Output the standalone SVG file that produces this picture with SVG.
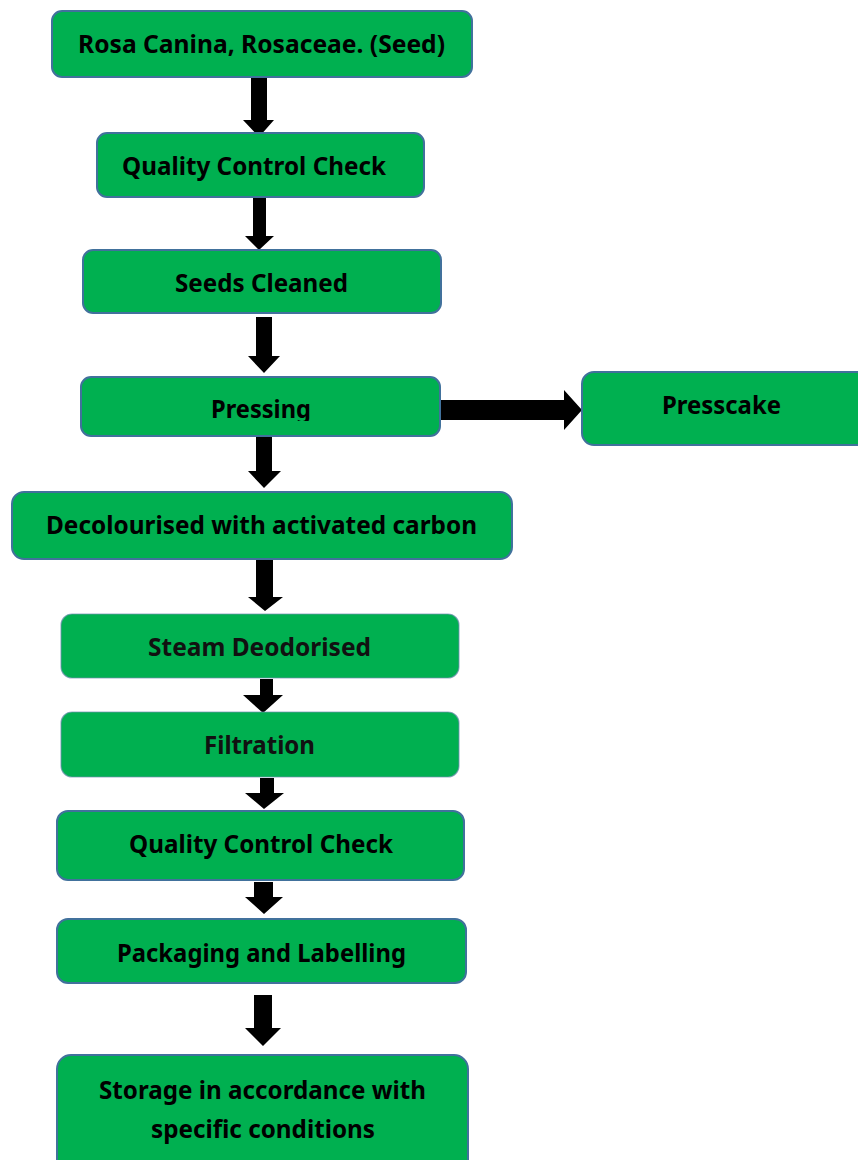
<svg xmlns="http://www.w3.org/2000/svg" width="858" height="1160" viewBox="0 0 858 1160">
<defs>
<style>
.box{fill:#00B050;stroke:#41719C;stroke-width:2}
.soft{fill:#00B050;stroke:#6f8fb0;stroke-width:1.2;stroke-opacity:0.7}
.lbl{font-family:"Noto Sans","Open Sans","Liberation Sans",sans-serif;font-weight:bold;font-size:25px;fill:#000}
.arr{fill:#000}
</style>
<clipPath id="clipPress"><rect x="81" y="377" width="359" height="44"/></clipPath>
</defs>
<rect width="858" height="1160" fill="#fff"/>
<g id="connectors">
<polygon class="arr" points="251,78 267,78 267,120 274,120 259,137 243,120 251,120"/>
<polygon class="arr" points="253,197 266,197 266,236 274,236 259,250 245,236 253,236"/>
<polygon class="arr" points="256,317 272,317 272,356 280,356 264,373 248,356 256,356"/>
<polygon class="arr" points="256,437 272,437 272,471 281,471 264,488 248,471 256,471"/>
<polygon class="arr" points="440,400 564,400 564,390 582,410 564,430 564,420 440,420"/>
<polygon class="arr" points="256,558 273,558 273,597 283,597 265,611 248,597 256,597"/>
<polygon class="arr" points="260,679 273,679 273,695 283,695 263,713 243,695 260,695"/>
<polygon class="arr" points="260,778 274,778 274,793 284,793 264,809 245,793 260,793"/>
<polygon class="arr" points="254,882 273,882 273,897 283,897 264,914 245,897 254,897"/>
<polygon class="arr" points="254,995 272,995 272,1028 281,1028 263,1046 245,1028 254,1028"/>
</g>
<g id="n1">
<rect class="box" x="52" y="11" width="420" height="66" rx="10"/>
<text class="lbl" x="78" y="53" textLength="367" lengthAdjust="spacingAndGlyphs">Rosa Canina, Rosaceae. (Seed)</text>
</g>
<g id="n2">
<rect class="box" x="97" y="133" width="327" height="64" rx="10"/>
<text class="lbl" x="122" y="175" textLength="264" lengthAdjust="spacingAndGlyphs">Quality Control Check</text>
</g>
<g id="n3">
<rect class="box" x="83" y="250" width="358" height="63" rx="10"/>
<text class="lbl" x="175" y="292" textLength="173" lengthAdjust="spacingAndGlyphs">Seeds Cleaned</text>
</g>
<g id="n4">
<rect class="box" x="81" y="377" width="359" height="59" rx="10"/>
<text class="lbl" x="211" y="418" textLength="100" lengthAdjust="spacingAndGlyphs" clip-path="url(#clipPress)">Pressing</text>
</g>
<g id="n5">
<rect class="box" x="582" y="372" width="290" height="73" rx="12"/>
<text class="lbl" x="662" y="414" textLength="119" lengthAdjust="spacingAndGlyphs">Presscake</text>
</g>
<g id="n6">
<rect class="box" x="12" y="492" width="500" height="67" rx="12"/>
<text class="lbl" x="46" y="534" textLength="431" lengthAdjust="spacingAndGlyphs">Decolourised with activated carbon</text>
</g>
<g id="n7">
<rect class="soft" x="61" y="614" width="398" height="64" rx="11"/>
<text class="lbl" x="148" y="656" textLength="223" lengthAdjust="spacingAndGlyphs" style="fill:#111">Steam Deodorised</text>
</g>
<g id="n8">
<rect class="soft" x="61" y="712" width="398" height="65" rx="11"/>
<text class="lbl" x="204" y="754" textLength="111" lengthAdjust="spacingAndGlyphs" style="fill:#111">Filtration</text>
</g>
<g id="n9">
<rect class="box" x="57" y="811" width="407" height="69" rx="11"/>
<text class="lbl" x="129" y="853" textLength="264" lengthAdjust="spacingAndGlyphs">Quality Control Check</text>
</g>
<g id="n10">
<rect class="box" x="57" y="919" width="409" height="64" rx="11"/>
<text class="lbl" x="117" y="962" textLength="289" lengthAdjust="spacingAndGlyphs">Packaging and Labelling</text>
</g>
<g id="n11">
<rect class="box" x="57" y="1055" width="411" height="120" rx="14"/>
<text class="lbl" x="99" y="1099" textLength="327" lengthAdjust="spacingAndGlyphs">Storage in accordance with</text>
<text class="lbl" x="151" y="1138" textLength="224" lengthAdjust="spacingAndGlyphs">specific conditions</text>
</g>
</svg>
